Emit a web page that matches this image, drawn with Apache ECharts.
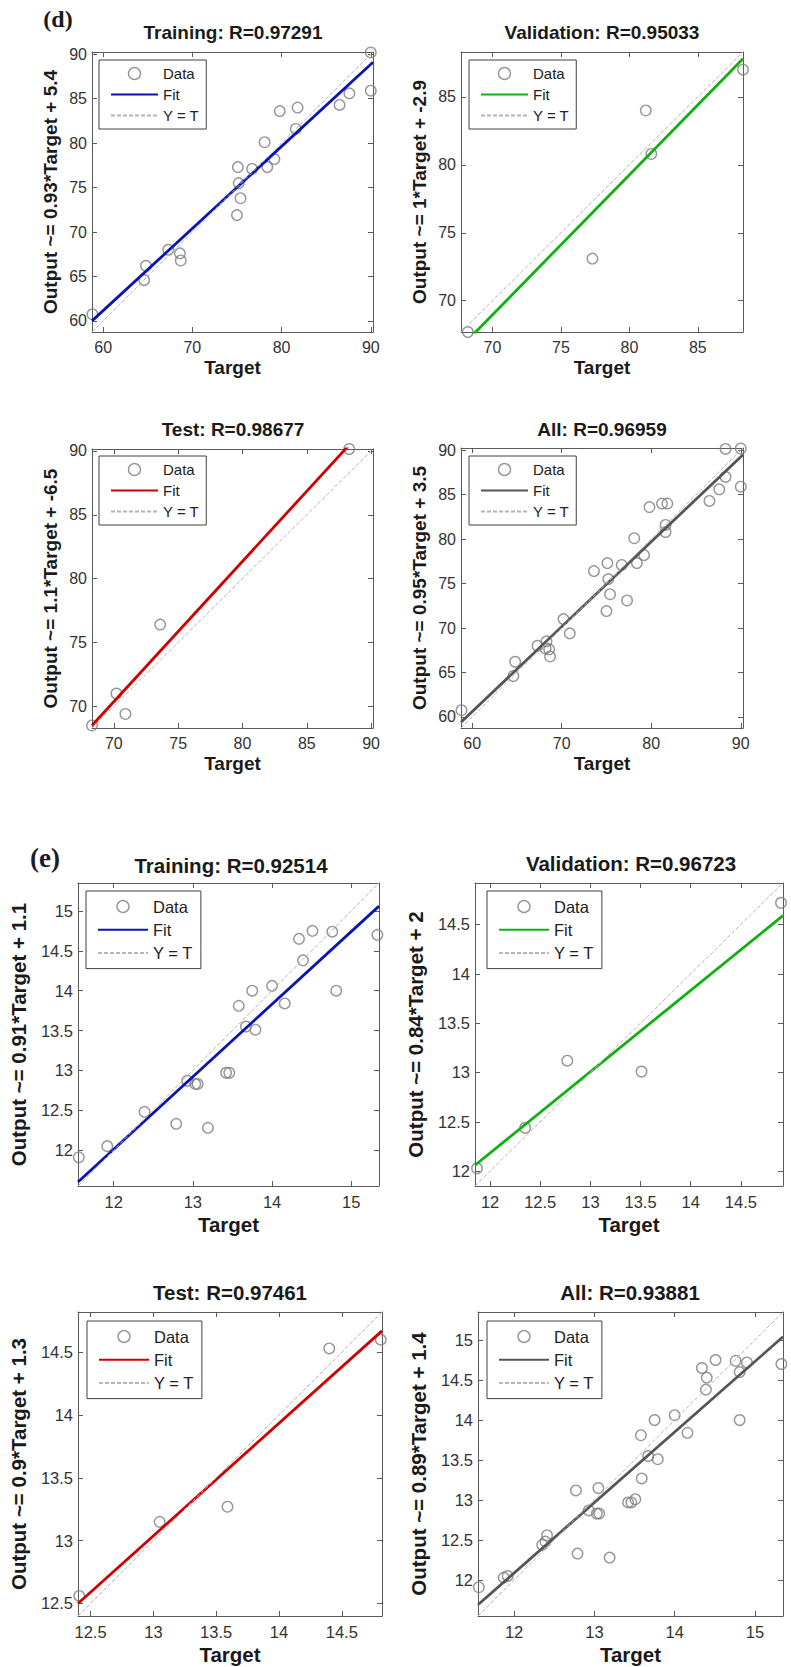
<!DOCTYPE html>
<html>
<head>
    <meta charset="utf-8">
    <title>Regression plots</title>
    <script src="https://cdn.jsdelivr.net/npm/echarts@6/dist/echarts.min.js"></script>
    <style>
        body { margin: 0; background: #fff; }
        #main { width: 791px; height: 1667px; }
    </style>
</head>
<body>
<div id="main"></div>
<script>
    // (d) targets / outputs
    var dTrainT = [90.0, 90.0, 87.6, 86.5, 81.8, 79.8, 81.6, 78.1, 79.2, 78.4, 76.7, 75.1, 75.2, 75.4, 75.0, 67.3, 68.6, 68.7, 64.8, 64.6, 58.8];
    var dTrainY = [90.2, 85.9, 85.6, 84.3, 84.0, 83.6, 81.6, 80.1, 78.2, 77.3, 77.1, 77.3, 75.5, 73.8, 71.9, 68.0, 67.6, 66.8, 66.2, 64.6, 60.75];
    var dValT = [68.2, 77.3, 81.2, 81.6, 88.3];
    var dValY = [67.7, 73.1, 84.0, 80.8, 87.0];
    var dTestT = [68.3, 70.2, 70.9, 73.6, 88.3];
    var dTestY = [68.5, 71.0, 69.4, 76.4, 90.15];

    // (e)
    var eTrainT = [11.56, 11.92, 12.39, 12.79, 13.19, 12.93, 13.03, 13.06, 13.42, 13.46, 13.58, 13.67, 13.79, 13.75, 14.0, 14.16, 14.34, 14.51, 14.39, 14.76, 14.81, 15.33];
    var eTrainY = [11.91, 12.05, 12.48, 12.33, 12.28, 12.87, 12.83, 12.83, 12.97, 12.97, 13.81, 13.55, 13.51, 14.0, 14.06, 13.84, 14.65, 14.75, 14.38, 14.74, 14.0, 14.7];
    var eValT = [11.87, 12.35, 12.77, 13.51, 14.9];
    var eValY = [12.03, 12.44, 13.12, 13.01, 14.72];
    var eTestT = [12.41, 13.05, 13.59, 14.40, 14.81];
    var eTestY = [12.56, 13.15, 13.27, 14.53, 14.60];

    // fit line end points (as drawn, clipped by the axes)
    var dTrainFit = [[58.75, 60.0], [90.25, 89.1]];
    var dValFit = [[67.7, 66.6], [88.3, 87.8]];
    var dTestFit = [[68.3, 68.5], [90.15, 92.5]];
    var dAllFit = [[58.75, 59.4], [90.25, 89.5]];
    var eTrainFit = [[11.55, 11.6], [15.35, 15.06]];
    var eValFit = [[11.85, 12.06], [14.92, 14.59]];
    var eTestFit = [[12.4, 12.5], [14.82, 14.67]];
    var eAllFit = [[11.55, 11.69], [15.35, 15.04]];

    // axis limits
    var dTrainLim = [58.75, 90.25];
    var dValLim = [67.7, 88.3];
    var dTestLim = [68.3, 90.15];
    var eTrainLim = [11.55, 15.35];
    var eValLim = [11.85, 14.92];
    var eTestLim = [12.4, 14.82];

    // tick labels
    var ticks60by10 = [60, 70, 80, 90];
    var ticks60by5 = [60, 65, 70, 75, 80, 85, 90];
    var ticks70to85 = [70, 75, 80, 85];
    var ticks70to90 = [70, 75, 80, 85, 90];
    var ticks12to15 = [12, 13, 14, 15];
    var ticks12by05 = [12, 12.5, 13, 13.5, 14, 14.5, 15];
    var ticks12to145 = [12, 12.5, 13, 13.5, 14, 14.5];
    var ticks125to145 = [12.5, 13, 13.5, 14, 14.5];

    var titles = ['Training: R=0.97291', 'Validation: R=0.95033', 'Test: R=0.98677', 'All: R=0.96959',
        'Training: R=0.92514', 'Validation: R=0.96723', 'Test: R=0.97461', 'All: R=0.93881'];
    var yNames = ['Output ~= 0.93*Target + 5.4', 'Output ~= 1*Target + -2.9', 'Output ~= 1.1*Target + -6.5', 'Output ~= 0.95*Target + 3.5',
        'Output ~= 0.91*Target + 1.1', 'Output ~= 0.84*Target + 2', 'Output ~= 0.9*Target + 1.3', 'Output ~= 0.89*Target + 1.4'];

    var FONT = '"Liberation Sans", Arial, sans-serif';
    var fitColors = ['#0a14b4', '#10b010', '#d00000', '#555555'];
    var noDot = {color: 'rgba(0,0,0,0)', borderWidth: 0};

    // two sizes of panel: (d) and (e)
    var styles = [
        {title: 19, name: 19, tick: 16, leg: 15, legLh: 14, legGap: 6, legPad: [6, 7, 6, 11], iw: 47, xGap: 26, yGap: 32},
        {title: 20.5, name: 20.5, tick: 16.5, leg: 16.5, legLh: 15, legGap: 6.3, legPad: [7, 8, 7, 11], iw: 50, xGap: 28, yGap: 49}
    ];

    var panels = [
        {t: dTrainT, y: dTrainY, fit: dTrainFit, lim: dTrainLim, xt: ticks60by10, yt: ticks60by5, c: 0, s: 0, box: [92, 52, 281, 280], leg: [99, 60], tp: [233, 32]},
        {t: dValT, y: dValY, fit: dValFit, lim: dValLim, xt: ticks70to85, yt: ticks70to85, c: 1, s: 0, box: [461, 52, 282, 280], leg: [469, 60], tp: [602, 32]},
        {t: dTestT, y: dTestY, fit: dTestFit, lim: dTestLim, xt: ticks70to90, yt: ticks70to90, c: 2, s: 0, box: [92, 449, 281, 279], leg: [99, 456], tp: [233, 429]},
        {t: dTrainT.concat(dValT, dTestT), y: dTrainY.concat(dValY, dTestY), fit: dAllFit, lim: dTrainLim, xt: ticks60by10, yt: ticks60by5, c: 3, s: 0, box: [461, 448, 282, 280], leg: [469, 456], tp: [602, 429]},
        {t: eTrainT, y: eTrainY, fit: eTrainFit, lim: eTrainLim, xt: ticks12to15, yt: ticks12by05, c: 0, s: 1, box: [78, 883, 301, 303], leg: [86, 891], tp: [231, 865]},
        {t: eValT, y: eValY, fit: eValFit, lim: eValLim, xt: ticks12to145, yt: ticks12to145, c: 1, s: 1, box: [475, 883, 308, 303], leg: [487, 891], tp: [631, 863]},
        {t: eTestT, y: eTestY, fit: eTestFit, lim: eTestLim, xt: ticks125to145, yt: ticks125to145, c: 2, s: 1, box: [78, 1312, 304, 304], leg: [87, 1321], tp: [230, 1292]},
        {t: eTrainT.concat(eValT, eTestT), y: eTrainY.concat(eValY, eTestY), fit: eAllFit, lim: eTrainLim, xt: ticks12to15, yt: ticks12by05, c: 3, s: 1, box: [478, 1312, 305, 304], leg: [487, 1321], tp: [630, 1292]}
    ];

    var chart = echarts.init(document.getElementById('main'), null, {renderer: 'svg'});

    var option = {
        animation: false,
        grid: [], xAxis: [], yAxis: [], series: [], legend: [],
        graphic: [
            {type: 'text', x: 58, y: 19, style: {text: '(d)', font: 'bold 24px "Liberation Serif", serif', fill: '#1a1a1a', align: 'center', verticalAlign: 'middle'}},
            {type: 'text', x: 45, y: 858, style: {text: '(e)', font: 'bold 27px "Liberation Serif", serif', fill: '#1c1c30', align: 'center', verticalAlign: 'middle'}}
        ]
    };

    function axis(p, i, ticks, pos, main) {
        var s = styles[p.s];
        return {
            type: 'value', gridIndex: i, position: pos, min: p.lim[0], max: p.lim[1],
            splitLine: {show: false},
            axisLine: {show: true, onZero: false, lineStyle: {color: '#5a5a5a', width: 1}},
            axisTick: {show: true, inside: true, length: 5, customValues: ticks, lineStyle: {color: '#5a5a5a'}},
            axisLabel: {show: main, customValues: ticks, fontSize: s.tick, fontFamily: FONT, color: '#333', margin: (pos === 'bottom' ? 7 : 5)}
        };
    }

    panels.forEach(function (p, i) {
        var s = styles[p.s];
        option.grid.push({left: p.box[0], top: p.box[1], width: p.box[2], height: p.box[3]});

        var xb = axis(p, i, p.xt, 'bottom', true);
        xb.name = 'Target';
        xb.nameLocation = 'middle';
        xb.nameGap = s.xGap;
        xb.nameTextStyle = {fontSize: s.name, fontWeight: 'bold', fontFamily: FONT, color: '#1a1a1a'};
        var yl = axis(p, i, p.yt, 'left', true);
        yl.name = yNames[i];
        yl.nameLocation = 'middle';
        yl.nameGap = s.yGap;
        yl.nameTextStyle = {fontSize: s.name, fontWeight: 'bold', fontFamily: FONT, color: '#1a1a1a'};
        option.xAxis.push(xb, axis(p, i, p.xt, 'top', false));
        option.yAxis.push(yl, axis(p, i, p.yt, 'right', false));

        var pts = p.t.map(function (v, k) { return [v, p.y[k]]; });
        var col = fitColors[p.c];
        option.series.push(
            {
                type: 'scatter', name: 'Data#' + i, xAxisIndex: 2 * i, yAxisIndex: 2 * i,
                data: pts, symbol: 'circle', symbolSize: 10.5, silent: true,
                itemStyle: {color: 'rgba(0,0,0,0)', borderColor: '#7d7d7d', borderWidth: 1.4}
            },
            {
                type: 'line', name: 'Fit#' + i, xAxisIndex: 2 * i, yAxisIndex: 2 * i,
                data: p.fit, symbol: 'none', clip: true, silent: true,
                itemStyle: {color: col}, lineStyle: {color: col, width: 2.8}
            },
            {
                type: 'line', name: 'Y = T#' + i, xAxisIndex: 2 * i, yAxisIndex: 2 * i,
                data: [[p.lim[0], p.lim[0]], [p.lim[1], p.lim[1]]], symbol: 'none', clip: true, silent: true,
                itemStyle: {color: '#b5b5b5'}, lineStyle: {color: '#b5b5b5', width: 1, type: [4, 2]}
            }
        );

        option.legend.push({
            left: p.leg[0], top: p.leg[1], orient: 'vertical',
            padding: s.legPad, itemWidth: s.iw, itemHeight: 12, itemGap: s.legGap,
            borderColor: '#404040', borderWidth: 1, backgroundColor: '#fff',
            selectedMode: false,
            textStyle: {fontSize: s.leg, lineHeight: s.legLh, fontFamily: FONT, color: '#222'},
            formatter: function (name) { return name.split('#')[0]; },
            data: [
                {name: 'Data#' + i, icon: 'circle', itemStyle: {color: 'rgba(0,0,0,0)', borderColor: '#7d7d7d', borderWidth: 1.4}},
                {name: 'Fit#' + i, itemStyle: noDot},
                {name: 'Y = T#' + i, itemStyle: noDot}
            ]
        });

        option.graphic.push({
            type: 'text', x: p.tp[0], y: p.tp[1],
            style: {text: titles[i], fontSize: s.title, fontWeight: 'bold', fontFamily: FONT, fill: '#1a1a1a', align: 'center', verticalAlign: 'middle'}
        });
    });

    chart.setOption(option);
    window.addEventListener('resize', chart.resize);
</script>
</body>
</html>
